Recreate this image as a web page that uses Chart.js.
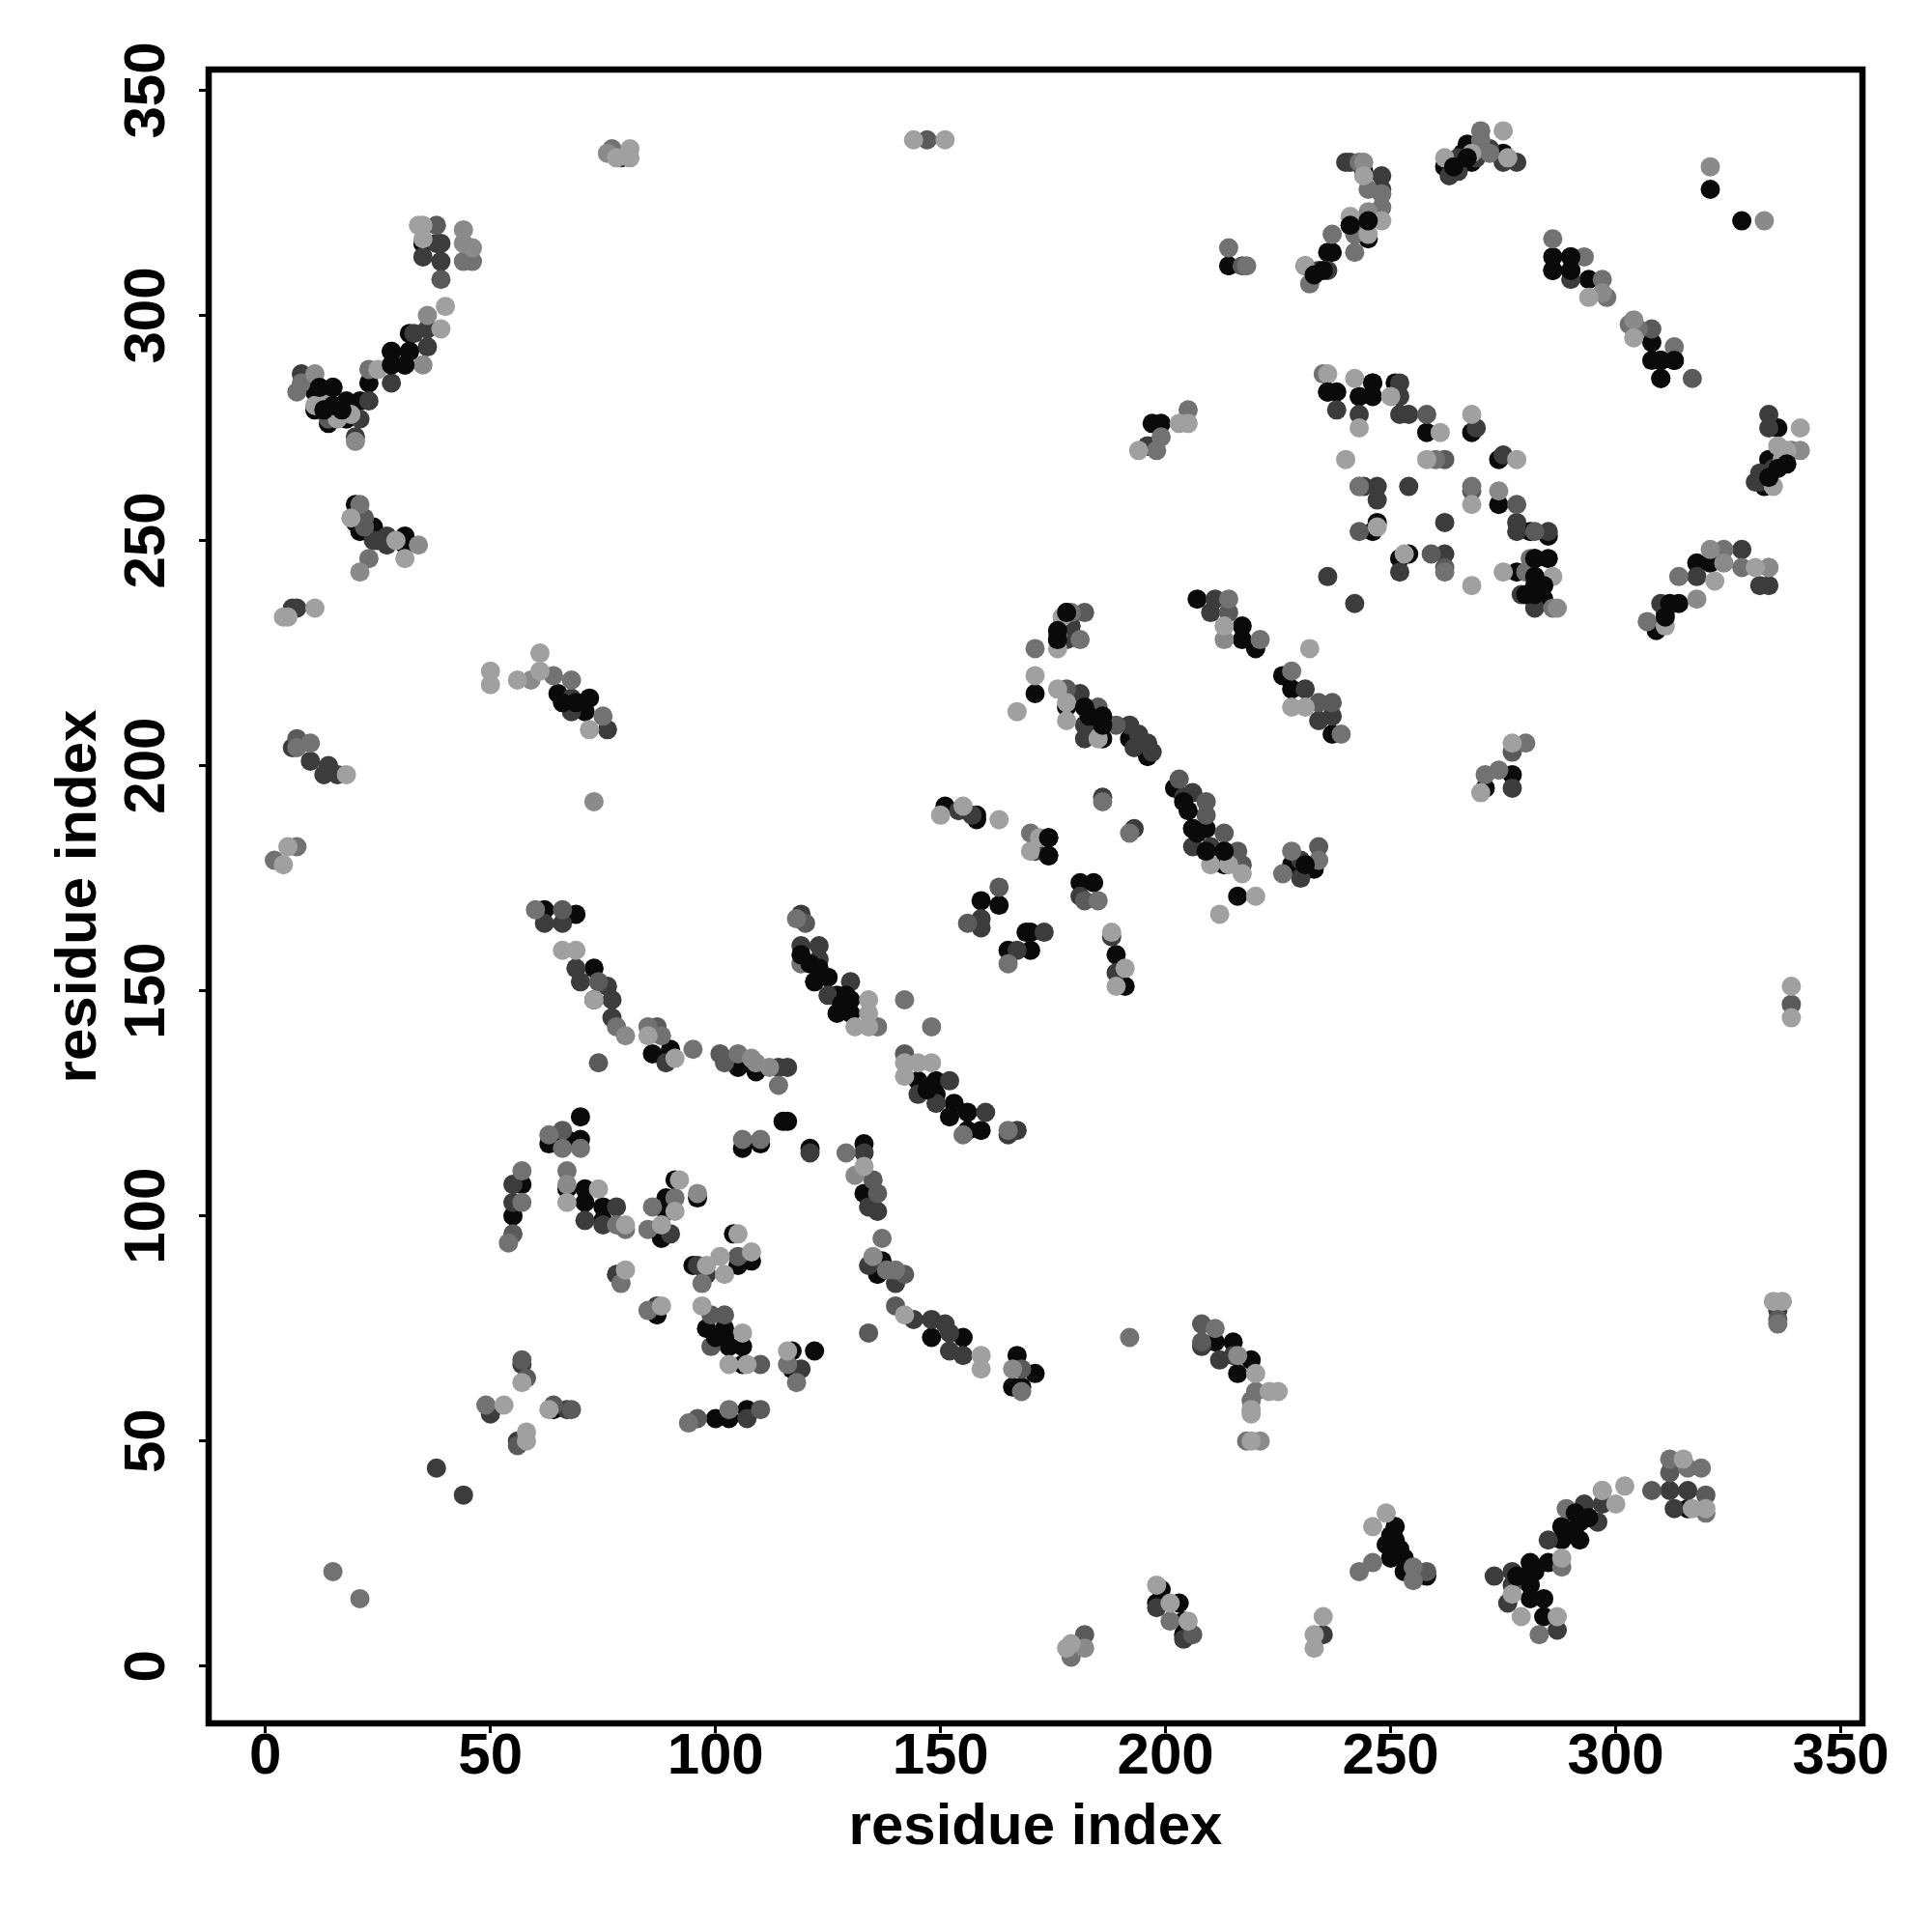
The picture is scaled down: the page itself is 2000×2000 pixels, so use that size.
<!DOCTYPE html>
<html>
<head>
<meta charset="utf-8">
<title>residue index</title>
<script src="https://cdn.jsdelivr.net/npm/chart.js@4"></script>
<style>
  html, body { margin: 0; padding: 0; background: #fff; }
  canvas { display: block; }
</style>
</head>
<body>
<canvas id="contactChart" width="2000" height="2000"></canvas>
<script>
// values, one list per grey level
const tickValues = [0, 50, 100, 150, 200, 250, 300, 350];
const axisTitle = 'residue index';

const blackPoints = [
  [35,316],[32,296],[32,292],[28,292],[28,289],[31,289],[23,285],[18,281],[21,281],[18,277],[14,276],[15,284],[15,280],[12,284],[11,283],[11,279],
  [20,258],[20,254],[21,252],[24,253],[31,251],[31,249],
  [244,332],[245,321],[241,320],[245,317],[237,314],[236,314],[231,311],[267,338],[275,336],[268,334],[266,336],[262,333],[321,328],[328,321],
  [286,313],[286,310],[290,313],[290,310],[294,308],[308,294],[308,290],[310,290],[313,290],[310,286],[336,275],[334,268],[333,262],
  [236,283],[238,283],[246,285],[246,282],[243,282],[258,274],[268,274],[251,285],[274,268],[274,258],[281,252],[285,251],[247,254],[246,252],[252,246],[254,247],
  [278,243],[282,246],[285,246],[282,242],[282,238],[284,237],[309,230],[314,236],[318,245],[321,245],
  [171,216],[178,234],[176,228],[182,213],[178,213],[186,209],[186,206],[192,206],[196,202],[202,195],[206,186],[209,186],[209,181],[213,181],[213,178],[216,171],
  [231,178],[233,177],[228,178],[158,188],[151,191],[158,189],[174,184],[174,180],[181,174],[184,174],[163,169],[159,170],[169,163],[170,163],[165,159],[170,159],[189,158],[191,151],
  [207,237],[217,231],[217,228],[220,226],[226,220],[228,217],[237,207],[277,198],[271,195],
  [62,168],[69,167],[73,155],[73,148],[86,136],[90,137],[105,133],[109,132],[116,121],[115,121],[106,115],[110,116],[121,115],[70,122],[67,117],[63,116],[70,117],
  [57,107],[55,100],[67,106],[71,106],[71,103],[75,102],[75,99],[91,108],[89,104],[96,104],[89,101],[87,97],[88,95],[87,78],[104,96],[95,89],[105,89],[108,90],
  [98,75],[102,75],[103,71],[106,71],[106,67],[117,70],[122,70],[117,66],[100,55],[103,55],[107,57],[64,57],
  [122,152],[125,153],[127,149],[130,148],[127,145],[130,145],[145,130],[149,130],[149,127],[153,125],[152,122],[156,123],[156,119],[159,119],
  [133,116],[133,105],[137,90],[136,87],[148,73],[155,73],[167,69],[171,65],[166,62],[168,62],
  [215,72],[211,72],[219,68],[216,65],[199,17],[198,14],[203,14],[204,10],[204,7],
  [251,31],[249,27],[251,28],[250,24],[253,24],[253,21],[258,20],[281,23],[285,23],[281,18],[281,15],[284,15],[284,11],[288,28],[292,28],[288,31],[292,32],[316,35],
  [65,216],[72,215],[71,212],[214,311],[197,276],[199,276],[196,271]
];

const darkPoints = [
  [35,313],[38,316],[39,316],[39,312],[36,297],[33,296],[36,293],[28,285],[23,281],[21,277],[20,273],[8,287],[24,250],[27,251],[27,249],[25,250],[7,235],[6,235],[79,335],
  [240,334],[241,334],[248,331],[248,328],[236,310],[234,310],[242,321],[270,338],[275,334],[278,334],[265,335],[263,331],[265,332],[269,335],[272,337],
  [334,278],[334,275],[335,266],[332,265],[332,263],[331,263],[238,279],[243,278],[252,285],[252,282],[252,278],[254,278],[269,275],[275,269],
  [244,262],[247,262],[247,259],[254,262],[278,254],[278,252],[285,252],[262,254],[262,247],[252,243],[236,242],[242,236],[279,238],[282,235],
  [310,236],[311,234],[318,242],[328,248],[334,240],[332,240],[290,308],
  [179,231],[177,231],[178,228],[181,216],[182,209],[182,206],[192,209],[194,207],[196,205],[193,204],[197,203],[204,193],[206,194],[206,182],[210,182],
  [230,179],[230,175],[186,193],[193,186],[171,181],[181,171],[159,166],[159,164],[173,163],[167,159],[188,162],[189,154],[154,190],
  [211,237],[210,234],[231,217],[234,210],[237,211],[277,195],[157,189],
  [62,165],[66,165],[69,155],[70,152],[76,151],[77,148],[77,144],[89,134],[114,133],[116,133],[121,114],[55,107],[55,103],[71,99],[78,102],[75,98],[90,96],
  [78,87],[87,80],[96,89],[98,87],[107,55],[119,66],[50,56],[57,67],[67,57],[56,50],
  [119,167],[119,160],[123,160],[123,157],[130,152],[125,149],[152,130],[145,127],[149,125],[160,123],[167,119],[165,118],
  [133,114],[134,102],[136,101],[134,89],[140,85],[144,77],[148,77],[151,76],[152,74],[152,70],[155,69],
  [208,71],[212,68],[215,69],[336,79],[198,13],[204,6],[235,7],[273,20],[277,21],[277,18],[276,14],[287,8],
  [285,28],[293,36],[296,32],[297,36],[312,39],[316,39],[313,35],[38,44],[44,38],[6,204],[10,201],[13,198],[16,198],[14,200],
  [68,215],[68,212],[76,208],[196,271]
];

const midDarkPoints = [
  [38,320],[39,308],[22,255],[22,253],[14,277],[258,278],[262,268],[243,262],[268,261],[278,258],[282,252],[243,252],[259,247],[262,244],[308,297],[317,286],[277,203],
  [182,234],[178,217],[185,213],[189,209],[203,197],[209,192],[209,189],[213,185],[216,181],[217,178],[234,182],[182,170],[163,173],[156,165],[214,234],[234,214],[237,214],
  [66,168],[74,152],[87,142],[74,134],[101,136],[102,134],[66,119],[55,96],[105,91],[99,78],[102,78],[99,71],[110,67],[96,55],[110,57],[57,68],[58,64],[64,58],[68,57],[56,49],
  [120,165],[142,136],[135,108],[136,105],[142,87],[140,80],[134,74],[168,66],
  [208,76],[208,72],[336,77],[182,7],[206,7],[258,21],[308,39],[312,43],[320,38],[7,206],[217,311],[147,339],[339,147]
];

const midPoints = [
  [77,337],[44,312],[46,312],[7,283],[8,285],[23,288],[21,258],[23,246],
  [243,334],[245,328],[248,327],[248,324],[242,318],[242,314],[237,318],[232,307],[270,341],[270,339],[272,336],[286,317],[293,313],[297,308],[298,304],[303,298],[305,297],[313,293],
  [235,287],[260,268],[268,262],[262,243],[243,262],[280,243],[281,246],[286,235],[307,232],[314,242],[324,248],[328,244],[334,244],[274,199],[271,198],[339,270],
  [179,234],[181,228],[171,226],[228,181],[234,179],[226,176],[170,185],[185,170],[192,185],[186,192],[165,156],[221,228],[228,221],[214,237],[239,207],[280,205],
  [60,168],[78,142],[88,140],[85,142],[95,137],[105,136],[114,129],[106,117],[110,117],[63,118],[66,115],[70,115],[57,110],[57,103],[54,94],[67,110],[78,98],[80,97],[86,102],[91,104],[85,97],
  [79,85],[85,79],[97,85],[116,67],[118,63],[94,54],[103,57],[49,58],[118,166],[119,156],[142,148],[148,142],[136,142],[155,118],[165,119],[129,114],[137,95],[138,88],[140,88],[168,61],
  [192,73],[211,75],[220,61],[219,59],[218,50],[336,76],[179,2],[201,10],[246,23],[243,21],[255,22],[255,19],[288,22],[283,7],[289,35],[312,46],[316,44],[319,44],[320,34],
  [15,21],[21,15],[10,205],[7,204],[2,179],[7,182],[68,219],[64,220],[75,211],[214,315],[218,311],[199,273],[198,270],[205,279]
];

const midLightPoints = [
  [76,336],[44,319],[44,316],[46,315],[36,300],[35,289],[11,287],[34,249],[21,243],[20,272],
  [245,323],[244,334],[321,333],[333,321],[341,270],[274,261],[287,235],[334,244],[318,237],[324,245],[321,248],[297,305],[304,299],
  [176,229],[213,228],[135,91],[131,109],[80,140],[73,192],[59,219],[67,107],[96,105],[112,133],[109,134],[108,135],[166,66],[182,4],[216,69],[221,50],[297,39]
];

const lightPoints = [
  [78,335],[81,337],[81,335],[34,320],[35,320],[35,317],[40,302],[39,297],[25,288],[19,278],[16,277],[11,280],[13,281],[19,255],[29,250],[31,246],[4,233],[5,233],[11,235],
  [244,331],[245,318],[248,321],[241,322],[231,311],[275,341],[268,336],[262,335],[276,335],[294,304],[304,295],[341,275],[336,271],[338,270],[337,268],[335,262],
  [236,287],[242,286],[243,275],[250,282],[261,274],[268,278],[240,268],[258,268],[278,268],[268,258],[247,253],[253,247],[268,240],[275,243],[286,242],[311,231],[322,241],[331,244],[277,205],[270,194],
  [177,233],[232,226],[171,220],[167,212],[176,217],[178,214],[178,210],[185,206],[210,178],[214,178],[217,176],[220,171],[212,167],[172,184],[170,181],[176,226],
  [150,189],[155,191],[163,188],[188,163],[191,155],[189,151],[213,231],[228,213],[231,213],
  [66,159],[69,159],[73,148],[85,140],[91,135],[67,103],[74,106],[80,98],[92,108],[91,101],[88,98],[80,88],[88,80],[105,96],[98,89],[101,91],[102,87],[108,92],[97,80],[106,74],[103,67],[107,67],[116,70],
  [53,58],[57,63],[63,57],[58,52],[58,50],[134,148],[134,145],[131,142],[134,142],[142,134],[142,131],[145,134],[148,134],[133,111],[142,78],[159,69],[159,66],
  [223,61],[225,61],[219,57],[219,56],[219,50],[220,65],[335,81],[337,81],[179,5],[178,4],[198,18],[201,14],[205,10],[235,11],[233,7],[233,4],
  [249,34],[246,31],[277,16],[279,11],[287,11],[288,24],[297,39],[300,36],[302,40],[315,46],[317,35],[320,35],
  [5,182],[4,178],[18,198],[50,221],[50,218],[56,219],[61,225],[61,221],[72,208],[339,151],[339,144],[144,339],[151,339],[194,270],[203,276],[205,276]
];

// black dots that sit on top of the lighter ones inside the dense clusters
const blackTopPoints = [
  [31,289],[28,292],[28,289],[32,292],[15,280],[15,284],[12,284],[17,279],[13,279],[245,321],[241,320],[290,310],[286,310],[290,313],[310,290],[313,290],[310,286],
  [236,283],[246,285],[282,246],[282,242],[282,238],[282,240],[284,240],[280,238],[178,234],[176,228],[176,230],[182,213],[186,209],[183,211],[186,211],
  [206,186],[209,181],[213,181],[207,185],[231,178],[174,184],[174,180],[264,333],[267,335],[233,309],[235,310],
  [336,266],[338,267],[334,264],[290,30],[291,34],[294,33],[250,27],[250,29],[252,26],[282,21],[280,20],[278,20],[119,158],[121,156],[123,155],[128,147],[129,149],
  [147,128],[100,73],[102,73],[66,214],[69,214],[311,233],[312,236],[204,192],[205,190]
];

// darkest first, lightest on top, then the cluster blacks
const greySeries = [
  { name: 'black', points: blackPoints, colour: '#0a0a0a' },
  { name: 'dark', points: darkPoints, colour: '#3c3c3c' },
  { name: 'midDark', points: midDarkPoints, colour: '#5a5a5a' },
  { name: 'mid', points: midPoints, colour: '#727272' },
  { name: 'midLight', points: midLightPoints, colour: '#8a8a8a' },
  { name: 'light', points: lightPoints, colour: '#a0a0a0' },
  { name: 'blackTop', points: blackTopPoints, colour: '#0a0a0a' }
];

// draws the plot box and the rotated y tick labels
const boxAndLabels = {
  id: 'boxAndLabels',
  afterDatasetsDraw(chart) {
    const { ctx, chartArea, scales } = chart;
    ctx.save();
    ctx.strokeStyle = '#000';
    ctx.lineWidth = 6.5;
    ctx.strokeRect(chartArea.left, chartArea.top, chartArea.right - chartArea.left, chartArea.bottom - chartArea.top);
    ctx.fillStyle = '#000';
    ctx.font = 'bold 60px "Liberation Sans"';
    ctx.textAlign = 'center';
    ctx.textBaseline = 'middle';
    tickValues.forEach(v => {
      ctx.save();
      ctx.translate(153, scales.y.getPixelForValue(v));
      ctx.rotate(-Math.PI / 2);
      ctx.fillText(String(v), 0, 0);
      ctx.restore();
    });
    ctx.restore();
  }
};

const setTicks = scale => { scale.ticks = tickValues.map(v => ({ value: v })); };
const gridOpts = { drawOnChartArea: false, drawTicks: true, tickLength: 10, tickWidth: 3, tickColor: '#000' };

new Chart(document.getElementById('contactChart').getContext('2d'), {
  type: 'scatter',
  data: {
    datasets: greySeries.map((s, i) => ({
      label: s.name,
      data: s.points.map(p => ({ x: p[0], y: p[1] })),
      backgroundColor: s.colour,
      pointRadius: 10,
      pointBorderWidth: 0,
      order: greySeries.length - i,
      clip: false
    }))
  },
  options: {
    responsive: false,
    animation: false,
    layout: { padding: { top: 72, right: 72, left: 0, bottom: 0 } },
    plugins: { legend: { display: false }, tooltip: { enabled: false } },
    scales: {
      x: {
        type: 'linear',
        min: -12.6,
        max: 354.8,
        afterBuildTicks: setTicks,
        afterFit: s => { s.height = 216; },
        border: { display: false },
        grid: gridOpts,
        ticks: { color: '#000', maxRotation: 0, padding: -11, font: { family: 'Liberation Sans', weight: 'bold', size: 60 } },
        title: { display: true, text: axisTitle, color: '#000', padding: { top: 0, bottom: 72 }, font: { family: 'Liberation Sans', weight: 'bold', size: 60 } }
      },
      y: {
        type: 'linear',
        min: -12.7,
        max: 354.6,
        afterBuildTicks: setTicks,
        afterFit: s => { s.width = 216; },
        border: { display: false },
        grid: gridOpts,
        ticks: { display: false },
        title: { display: true, text: axisTitle, color: '#000', padding: { top: 46, bottom: 0 }, font: { family: 'Liberation Sans', weight: 'bold', size: 60 } }
      }
    }
  },
  plugins: [boxAndLabels]
});
</script>
</body>
</html>
